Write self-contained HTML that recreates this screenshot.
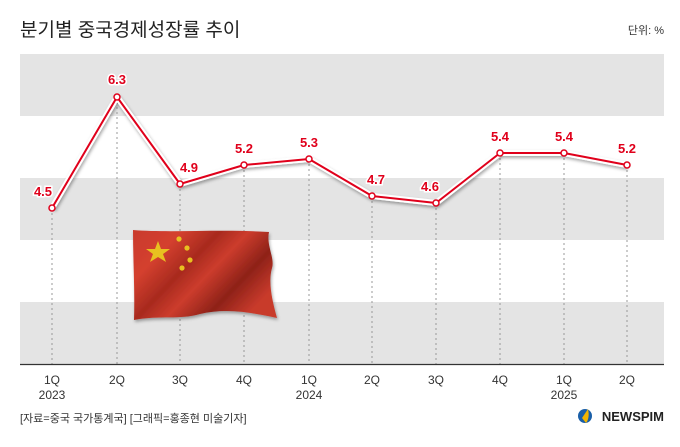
<!DOCTYPE html>
<html><head><meta charset="utf-8"><style>
body{margin:0;width:680px;height:442px;background:#fff;overflow:hidden;font-family:"Liberation Sans","Noto Sans CJK KR",sans-serif}
</style></head><body>
<svg width="680" height="442" xmlns="http://www.w3.org/2000/svg" font-family="Liberation Sans, Noto Sans CJK KR, sans-serif">
<defs>
<linearGradient id="fg" x1="0" y1="0" x2="1" y2="0.6">
<stop offset="0" stop-color="#c93a2c"/><stop offset="0.25" stop-color="#d4402f"/><stop offset="0.45" stop-color="#a82a1e"/><stop offset="0.6" stop-color="#cc3c2d"/><stop offset="0.8" stop-color="#8e2218"/><stop offset="1" stop-color="#c83a2c"/>
</linearGradient>
<filter id="sh" x="-10%" y="-10%" width="120%" height="130%"><feDropShadow dx="1" dy="2" stdDeviation="1.5" flood-opacity="0.35"/></filter>
</defs>
<text x="20" y="36" font-size="19" fill="#222">분기별 중국경제성장률 추이</text>
<text x="664" y="34" font-size="11" fill="#333" text-anchor="end">단위: %</text>
<rect x="20" y="54" width="644" height="62" fill="#e4e4e4"/>
<rect x="20" y="178" width="644" height="62" fill="#e4e4e4"/>
<rect x="20" y="302" width="644" height="62" fill="#e4e4e4"/>
<g stroke="#999" stroke-dasharray="2,3" stroke-width="1">
<line x1="52" y1="208" x2="52" y2="364"/><line x1="117" y1="97" x2="117" y2="364"/><line x1="180" y1="184" x2="180" y2="364"/><line x1="244" y1="165" x2="244" y2="364"/><line x1="309" y1="159" x2="309" y2="364"/><line x1="372" y1="196" x2="372" y2="364"/><line x1="436" y1="203" x2="436" y2="364"/><line x1="500" y1="153" x2="500" y2="364"/><line x1="564" y1="153" x2="564" y2="364"/><line x1="627" y1="165" x2="627" y2="364"/>
</g>
<line x1="20" y1="364.5" x2="664" y2="364.5" stroke="#333" stroke-width="1.2"/>
<path d="M133,230 C170,233 220,229 269,232 C266,245 275,258 272,268 C268,282 272,300 277,318 C250,312 225,308 200,314 C180,320 160,315 134,320 C135,290 133,260 133,230Z" fill="url(#fg)" filter="url(#sh)"/>
<g fill="#e8c020">
<polygon points="158,241 161,249 170,249 163,254 166,262 158,257 150,262 153,254 146,249 155,249"/>
<circle cx="179" cy="239" r="2.6"/><circle cx="187" cy="248" r="2.6"/><circle cx="190" cy="260" r="2.6"/><circle cx="182" cy="268" r="2.6"/>
</g>
<polyline points="52,208 117,97 180,184 244,165 309,159 372,196 436,203 500,153 564,153 627,165" fill="none" stroke="#fff" stroke-width="6" stroke-linejoin="round" filter="url(#sh)"/>
<polyline points="52,208 117,97 180,184 244,165 309,159 372,196 436,203 500,153 564,153 627,165" fill="none" stroke="#e0001b" stroke-width="2" stroke-linejoin="round"/>
<g fill="#fff" stroke="#e0001b" stroke-width="1.5">
<circle cx="52" cy="208" r="3"/><circle cx="117" cy="97" r="3"/><circle cx="180" cy="184" r="3"/><circle cx="244" cy="165" r="3"/><circle cx="309" cy="159" r="3"/><circle cx="372" cy="196" r="3"/><circle cx="436" cy="203" r="3"/><circle cx="500" cy="153" r="3"/><circle cx="564" cy="153" r="3"/><circle cx="627" cy="165" r="3"/>
</g>
<g font-size="13" font-weight="bold" fill="#e0001b" text-anchor="middle" stroke="#fff" stroke-width="3" paint-order="stroke">
<text x="43" y="196">4.5</text><text x="117" y="84">6.3</text><text x="189" y="172">4.9</text><text x="244" y="153">5.2</text><text x="309" y="147">5.3</text><text x="376" y="184">4.7</text><text x="430" y="191">4.6</text><text x="500" y="141">5.4</text><text x="564" y="141">5.4</text><text x="627" y="153">5.2</text>
</g>
<g font-size="12" fill="#333" text-anchor="middle">
<text x="52" y="384">1Q</text><text x="52" y="399">2023</text>
<text x="117" y="384">2Q</text><text x="180" y="384">3Q</text><text x="244" y="384">4Q</text>
<text x="309" y="384">1Q</text><text x="309" y="399">2024</text>
<text x="372" y="384">2Q</text><text x="436" y="384">3Q</text><text x="500" y="384">4Q</text>
<text x="564" y="384">1Q</text><text x="564" y="399">2025</text>
<text x="627" y="384">2Q</text>
</g>
<text x="20" y="422" font-size="11" fill="#333">[자료=중국 국가통계국] [그래픽=홍종현 미술기자]</text>
<circle cx="585" cy="416" r="7" fill="#1a5fa8"/><path d="M588,409 L582,418 L586,423 Q590,418 588,409Z" fill="#f2b400"/>
<text x="664" y="421" font-size="13" font-weight="bold" fill="#222" text-anchor="end">NEWSPIM</text>
</svg>
</body></html>
